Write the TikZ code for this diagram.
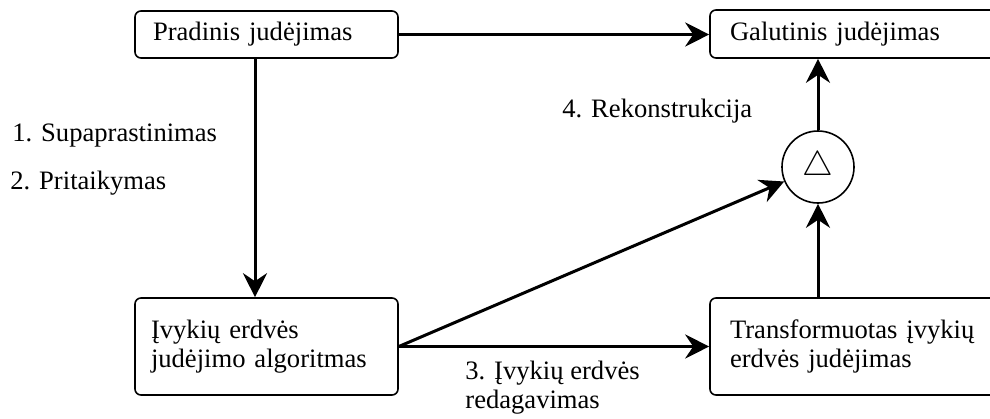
\documentclass[tikz,border=0pt]{standalone}
\usepackage{fontspec}
\setmainfont{Liberation Serif}
\usetikzlibrary{arrows.meta}
\begin{document}
\begin{tikzpicture}[x=0.5pt,y=-0.5pt,
  txt/.style={font=\fontsize{13.3}{14.5}\selectfont},
  box/.style={txt, draw, rounded corners=3pt, line width=0.8pt, align=left, inner ysep=0pt},
  lbl/.style={txt, inner sep=0pt, align=left},
  op/.style={draw, circle, line width=0.8pt, minimum size=36pt, inner sep=0pt},
  arr/.style={line width=1.5pt, -{Stealth[length=12pt,width=12pt,inset=4pt]}}]
\clip (0,0) rectangle (990,418);
\node[box, minimum height=23.5pt, text width=113.5pt, inner xsep=9pt] (A) at (266.5,34.5) {Pradinis judėjimas};
\node[box, minimum height=24pt, text width=125pt, inner xsep=10pt] (B) at (855,34) {Galutinis judėjimas};
\node[box, minimum height=48.5pt, text width=115.5pt, inner xsep=8pt] (C) at (266.5,346.5) {Įvykių erdvės\\judėjimo algoritmas};
\node[box, minimum height=48.5pt, text width=125pt, inner xsep=10pt] (D) at (855,346.5) {Transformuotas įvykių\\erdvės judėjimas};
\node[op] (E) at (818,167) {\fontsize{18}{18}\selectfont$\triangle$};
\node[lbl, anchor=base west] (l1) at (12,141) {1. Supaprastinimas};
\node[lbl, anchor=base west] (l2) at (10,189) {2. Pritaikymas};
\node[lbl, anchor=base west] (l4) at (562,117) {4. Rekonstrukcija};
\node[lbl, anchor=base west] (l3) at (465,408) {3. Įvykių erdvės\\redagavimas};
\draw[arr] (A.east) -- (A.east -| B.west);
\draw[arr] ([xshift=-5.75pt]A.south) -- ([xshift=-5.75pt]C.north);
\draw[arr] (C.east) -- (C.east -| D.west);
\draw[arr] (C.east) -- (E);
\draw[arr] (D.north -| E) -- (E.south);
\draw[arr] (E.north) -- (B.south -| E);
\end{tikzpicture}
\end{document}
